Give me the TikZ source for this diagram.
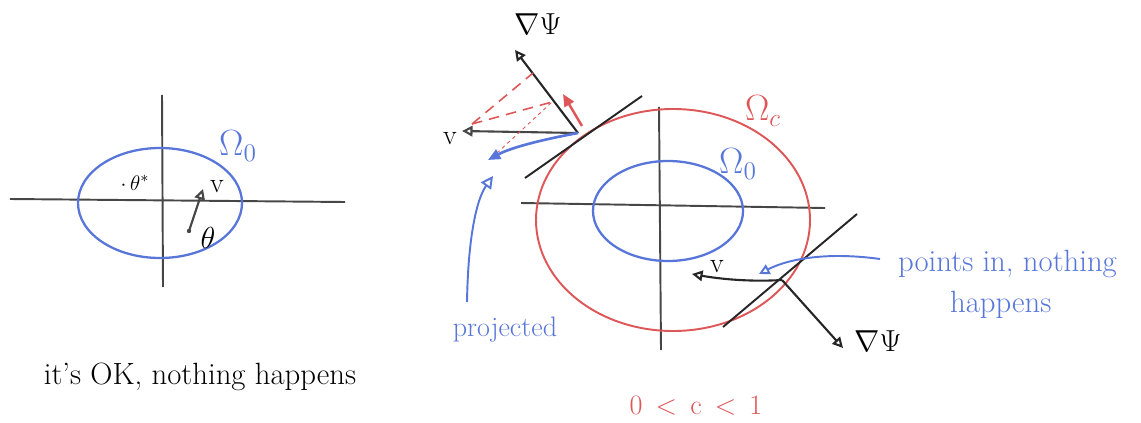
\documentclass[tikz,border=0pt]{standalone}
\usetikzlibrary{arrows.meta}
\definecolor{penblue}{RGB}{88,118,218}
\definecolor{penred}{RGB}{222,86,88}
\definecolor{pengray}{RGB}{70,70,70}
\tikzset{
  axis/.style={line width=1.1pt, pengray},
  blueline/.style={line width=1.3pt, penblue},
  redline/.style={line width=1.1pt, penred},
  vecarrow/.style={line width=1.2pt, pengray, -{Triangle[open, length=6pt, width=6pt]}},
  tanline/.style={line width=1.1pt, black!85},
  hand/.style={font=\fontsize{16}{18}\selectfont, inner sep=1pt},
  bighand/.style={font=\fontsize{17.5}{20}\selectfont, inner sep=1pt},
  bluetext/.style={hand, text=penblue},
  redtext/.style={hand, text=penred},
}
\begin{document}
\begin{tikzpicture}[x=0.02cm, y=-0.02cm]
\useasboundingbox (0,0) rectangle (1141,422);
% ---------- left diagram ----------
\coordinate (LxA) at (10,199); \coordinate (LxB) at (345,202);
\coordinate (LyA) at (162,95); \coordinate (LyB) at (163,287);
\draw[axis] (LxA) -- (LxB);
\draw[axis] (LyA) -- (LyB);
\draw[blueline] (160,203) ellipse [x radius=82, y radius=55];
\node[bluetext, font=\fontsize{20}{22}\selectfont] (om0L) at (238,146) {$\Omega_0$};
\node[hand, font=\fontsize{13}{15}\selectfont] (thstar) at (135,183) {$\cdot\,\theta^*$};
\coordinate (th) at (189,231);
\coordinate (vL) at (203,189);
\fill[pengray] (th) circle (2.2);
\draw[vecarrow] (th) -- (vL);
\node[hand] (vLlab) at (217,187) {v};
\node[hand] (thlab) at (208,238) {$\theta$};
\node[bighand] (ok) at (200,377) {it's OK, nothing happens};
% ---------- right diagram ----------
\coordinate (RxA) at (521,203); \coordinate (RxB) at (825,208);
\coordinate (RyA) at (659,107); \coordinate (RyB) at (661,350);
\draw[axis] (RxA) -- (RxB);
\draw[axis] (RyA) -- (RyB);
\draw[redline] (673,220) ellipse [x radius=137, y radius=111];
\draw[blueline] (668,211) ellipse [x radius=75, y radius=50];
\node[redtext, font=\fontsize{20}{22}\selectfont] (omc) at (763,111) {$\Omega_c$};
\node[bluetext, font=\fontsize{20}{22}\selectfont] (om0R) at (738,164) {$\Omega_0$};
% top-left boundary point
\coordinate (P1) at (578,133);
\coordinate (T1a) at (525,178); \coordinate (T1b) at (642,96);
\draw[tanline] (T1a) -- (T1b);
\coordinate (g1) at (515,50);
\coordinate (v1) at (462,131);
\coordinate (pr1) at (488,160);
\draw[vecarrow, black!85] (P1) -- (g1);
\node[hand] (g1lab) at (538,24) {$\nabla\Psi$};
\draw[vecarrow] (P1) -- (v1);
\node[hand] (v1lab) at (450,139) {v};
\draw[redline, line width=1.4pt, -{Triangle[length=7pt, width=6pt]}] (582,126) -- (563,94);
\coordinate (d0) at (472,124);
\coordinate (d1) at (533,73);
\coordinate (d2) at (552,102);
\coordinate (d3) at (497,153);
\draw[redline, line width=0.9pt, dashed, dash pattern=on 6pt off 4pt] (d0) -- (d1);
\draw[redline, line width=0.9pt, dashed, dash pattern=on 6pt off 4pt] (d0) -- (d2);
\draw[redline, line width=0.5pt, dashed, dash pattern=on 2pt off 2pt] (d3) -- (d2);
\draw[blueline, line width=1.5pt, -{Triangle[length=7pt, width=6pt]}] (P1) .. controls (540,140) and (510,148) .. (pr1);
\coordinate (prA) at (467,302);
\coordinate (prB) at (493,176);
\draw[blueline, line width=1.1pt, -{Triangle[open, length=7pt, width=7pt]}] (prA) .. controls (468,240) and (476,200) .. (prB);
\node[bluetext] (proj) at (505,330) {projected};
% bottom-right boundary point
\coordinate (P2) at (782,280);
\coordinate (T2a) at (723,327); \coordinate (T2b) at (857,214);
\draw[tanline] (T2a) -- (T2b);
\coordinate (v2) at (692,274);
\coordinate (g2) at (843,348);
\draw[vecarrow, black!85] (P2) .. controls (750,282) and (720,279) .. (v2);
\node[hand] (v2lab) at (717,267) {v};
\draw[vecarrow, black!85] (P2) -- (g2);
\node[hand] (g2lab) at (878,341) {$\nabla\Psi$};
\coordinate (piA) at (880,259);
\coordinate (piB) at (759,274);
\draw[blueline, line width=1.1pt, -{Triangle[open, length=6pt, width=6pt]}] (piA) .. controls (830,252) and (790,258) .. (piB);
\node[bluetext, bighand, anchor=west] (pin1) at (896,264) {points in, nothing};
\node[bluetext, bighand, anchor=west] (pin2) at (948,305) {happens};
\node[redtext] (crange) at (696,406) {0 \,<\, c \,<\, 1};
\end{tikzpicture}
\end{document}
